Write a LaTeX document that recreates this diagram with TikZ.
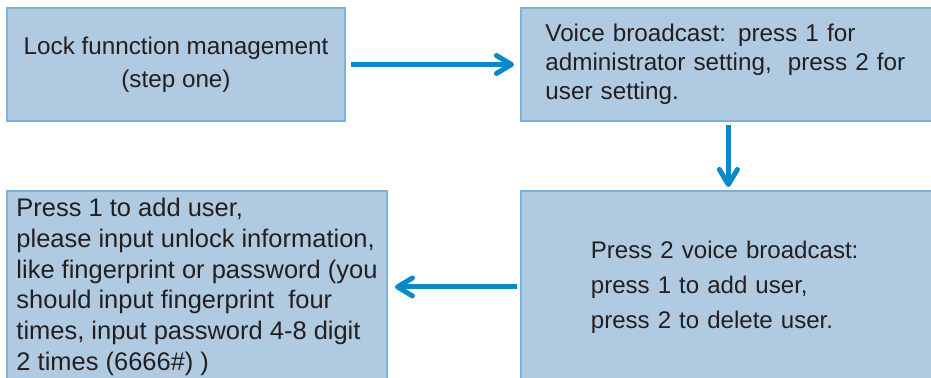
\documentclass[tikz,border=0pt]{standalone}
\usepackage{fontspec}
\setmainfont{Liberation Sans}
\usepackage{tikz}
\usetikzlibrary{arrows.meta,positioning}

\definecolor{boxfill}{RGB}{176,203,225}
\definecolor{boxline}{RGB}{125,177,214}
\definecolor{flowblue}{RGB}{9,137,200}
\definecolor{ink}{RGB}{35,31,32}

\tikzset{
  box/.style={draw=boxline, fill=boxfill, line width=0.04cm, text=ink, inner sep=0pt},
  flow/.style={draw=flowblue, line width=0.1cm, -{Straight Barb[round,length=0.3cm,width=0.36cm]}}
}

\begin{document}
\begin{tikzpicture}[x=0.02cm,y=-0.02cm]
  \path[use as bounding box, clip] (0,0) rectangle (931,378);

  \node[box, minimum width=6.76cm, minimum height=2.26cm, align=center,
        font=\fontsize{13.8}{18.8}\selectfont] (lock) at (176,64.5)
        {Lock funnction management\\(step one)};
  \node[box, minimum width=8.28cm, minimum height=2.28cm, text width=7.32cm, align=left,
        font=\fontsize{13.8}{16.5}\selectfont] (voice) [right=3.49cm of lock]
        {Voice broadcast: press 1 for\\administrator setting,~ press 2 for\\user setting.};
  \node[box, minimum width=8.28cm, minimum height=3.84cm, text width=5.5cm, align=left,
        font=\fontsize{13.7}{19.9}\selectfont] (menu) [below=1.35cm of voice]
        {Press 2 voice broadcast:\\press 1 to add user,\\press 2 to delete user.};
  \node[box, minimum width=7.6cm, minimum height=3.84cm, align=left,
        font=\fontsize{14.5}{17.5}\selectfont] (adduser) [left=2.65cm of menu]
        {Press 1 to add user,\\please input unlock information,\\like fingerprint or password (you\\should input fingerprint~ four\\times, input password 4-8 digit\\2 times (6666\#) )};

  \path (lock)  edge[flow, shorten <=0.1cm,  shorten >=0.13cm] (voice)
        (voice) edge[flow, shorten <=0.05cm, shorten >=0.06cm] (menu)
        (menu)  edge[flow, shorten <=0.07cm, shorten >=0.14cm] (adduser);
\end{tikzpicture}
\end{document}
